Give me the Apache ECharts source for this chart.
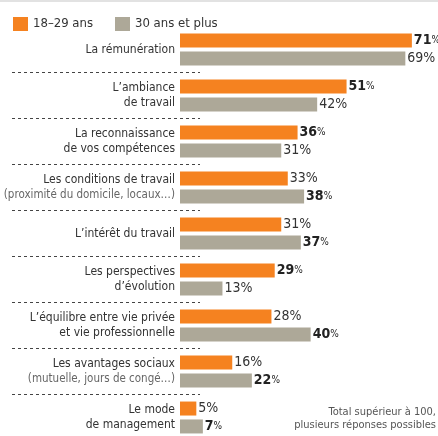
<!DOCTYPE html>
<html>
<head>
<meta charset="utf-8">
<script src="https://cdn.jsdelivr.net/npm/echarts@6/dist/echarts.min.js"></script>
<style>
  html, body { margin: 0; padding: 0; background: #fff; }
  #chart { width: 438px; height: 436px; }
</style>
</head>
<body>
<div id="chart"></div>
<script>
const categories = [
  'La rémunération',
  'L’ambiance\nde travail',
  'La reconnaissance\nde vos compétences',
  'Les conditions de travail\n(proximité du domicile, locaux…)',
  'L’intérêt du travail',
  'Les perspectives\nd’évolution',
  'L’équilibre entre vie privée\net vie professionnelle',
  'Les avantages sociaux\n(mutuelle, jours de congé…)',
  'Le mode\nde management'
]
const young = [71, 51, 36, 33, 31, 29, 28, 16, 5]
const older = [69, 42, 31, 38, 37, 13, 40, 22, 7]
// limites entre les lignes (pour les pointillés)
const separators = [1, 2, 3, 4, 5, 6, 7, 8]
const note = 'Total supérieur à 100,\nplusieurs réponses possibles'

const FONT = '"DejaVu Sans Condensed", "Liberation Sans Narrow", sans-serif'

// le plus grand des deux chiffres est en gras
function valueLabel(mine, other) {
  return {
    show: true,
    position: 'right',
    distance: 2,
    fontFamily: FONT,
    formatter: (p) => {
      const v = mine[p.dataIndex]
      const o = other[p.dataIndex]
      return v >= o ? `{b|${v}}{p|%}` : `{n|${v}%}`
    },
    rich: {
      b: { fontFamily: FONT, fontSize: 14, fontWeight: 'bold', color: '#222' },
      p: { fontFamily: FONT, fontSize: 10, color: '#222' },
      n: { fontFamily: FONT, fontSize: 14, color: '#333' }
    }
  }
}

const chart = echarts.init(document.getElementById('chart'))
chart.setOption({
  animation: false,
  color: ['#f58220', '#ada898'],
  textStyle: { fontFamily: FONT },
  graphic: [
    {
      type: 'line',
      silent: true,
      shape: { x1: 0, y1: 1, x2: 438, y2: 1 },
      style: { stroke: '#e2e2e2', lineWidth: 2 }
    },
    {
      type: 'text',
      silent: true,
      right: 2,
      bottom: 4,
      style: {
        text: note,
        textAlign: 'right',
        fill: '#555',
        font: '11px ' + FONT,
        lineHeight: 13
      }
    }
  ],
  legend: {
    left: 8,
    top: 12,
    itemWidth: 15,
    itemHeight: 14,
    itemGap: 22,
    icon: 'rect',
    selectedMode: false,
    textStyle: { fontFamily: FONT, fontSize: 13, color: '#333' }
  },
  grid: [
    { left: 180, right: 0, top: 26.5, height: 414, outerBoundsMode: 'none' },
    { left: 12, width: 188, top: 26.5, height: 414, outerBoundsMode: 'none' }
  ],
  xAxis: [
    { type: 'value', gridIndex: 0, min: 0, max: 79, show: false },
    { type: 'value', gridIndex: 1, min: 0, max: 1, show: false }
  ],
  yAxis: [
    {
      type: 'category',
      gridIndex: 0,
      data: categories,
      inverse: true,
      axisLine: { show: false },
      axisTick: { show: false },
      splitLine: { show: false },
      axisLabel: {
        margin: 5,
        formatter: (value) =>
          value
            .split('\n')
            .map((l) => (l.startsWith('(') ? `{s|${l}}` : `{m|${l}}`))
            .join('\n'),
        rich: {
          m: { fontFamily: FONT, fontSize: 12, color: '#333', lineHeight: 15.5, align: 'right' },
          s: { fontFamily: FONT, fontSize: 11.5, color: '#666', lineHeight: 15.5, align: 'right' }
        }
      }
    },
    {
      type: 'value',
      gridIndex: 1,
      min: 0,
      max: 9,
      inverse: true,
      show: false
    }
  ],
  series: [
    {
      name: '18–29 ans',
      type: 'bar',
      data: young,
      barWidth: 14,
      barGap: '28%',
      label: valueLabel(young, older)
    },
    {
      name: '30 ans et plus',
      type: 'bar',
      data: older,
      barWidth: 14,
      label: valueLabel(older, young)
    },
    {
      type: 'scatter',
      xAxisIndex: 1,
      yAxisIndex: 1,
      data: [],
      silent: true,
      markLine: {
        silent: true,
        symbol: 'none',
        label: { show: false },
        lineStyle: { color: '#444', width: 1, type: [3, 3] },
        data: separators.map((y) => ({ yAxis: y }))
      }
    }
  ]
})
</script>
</body>
</html>
